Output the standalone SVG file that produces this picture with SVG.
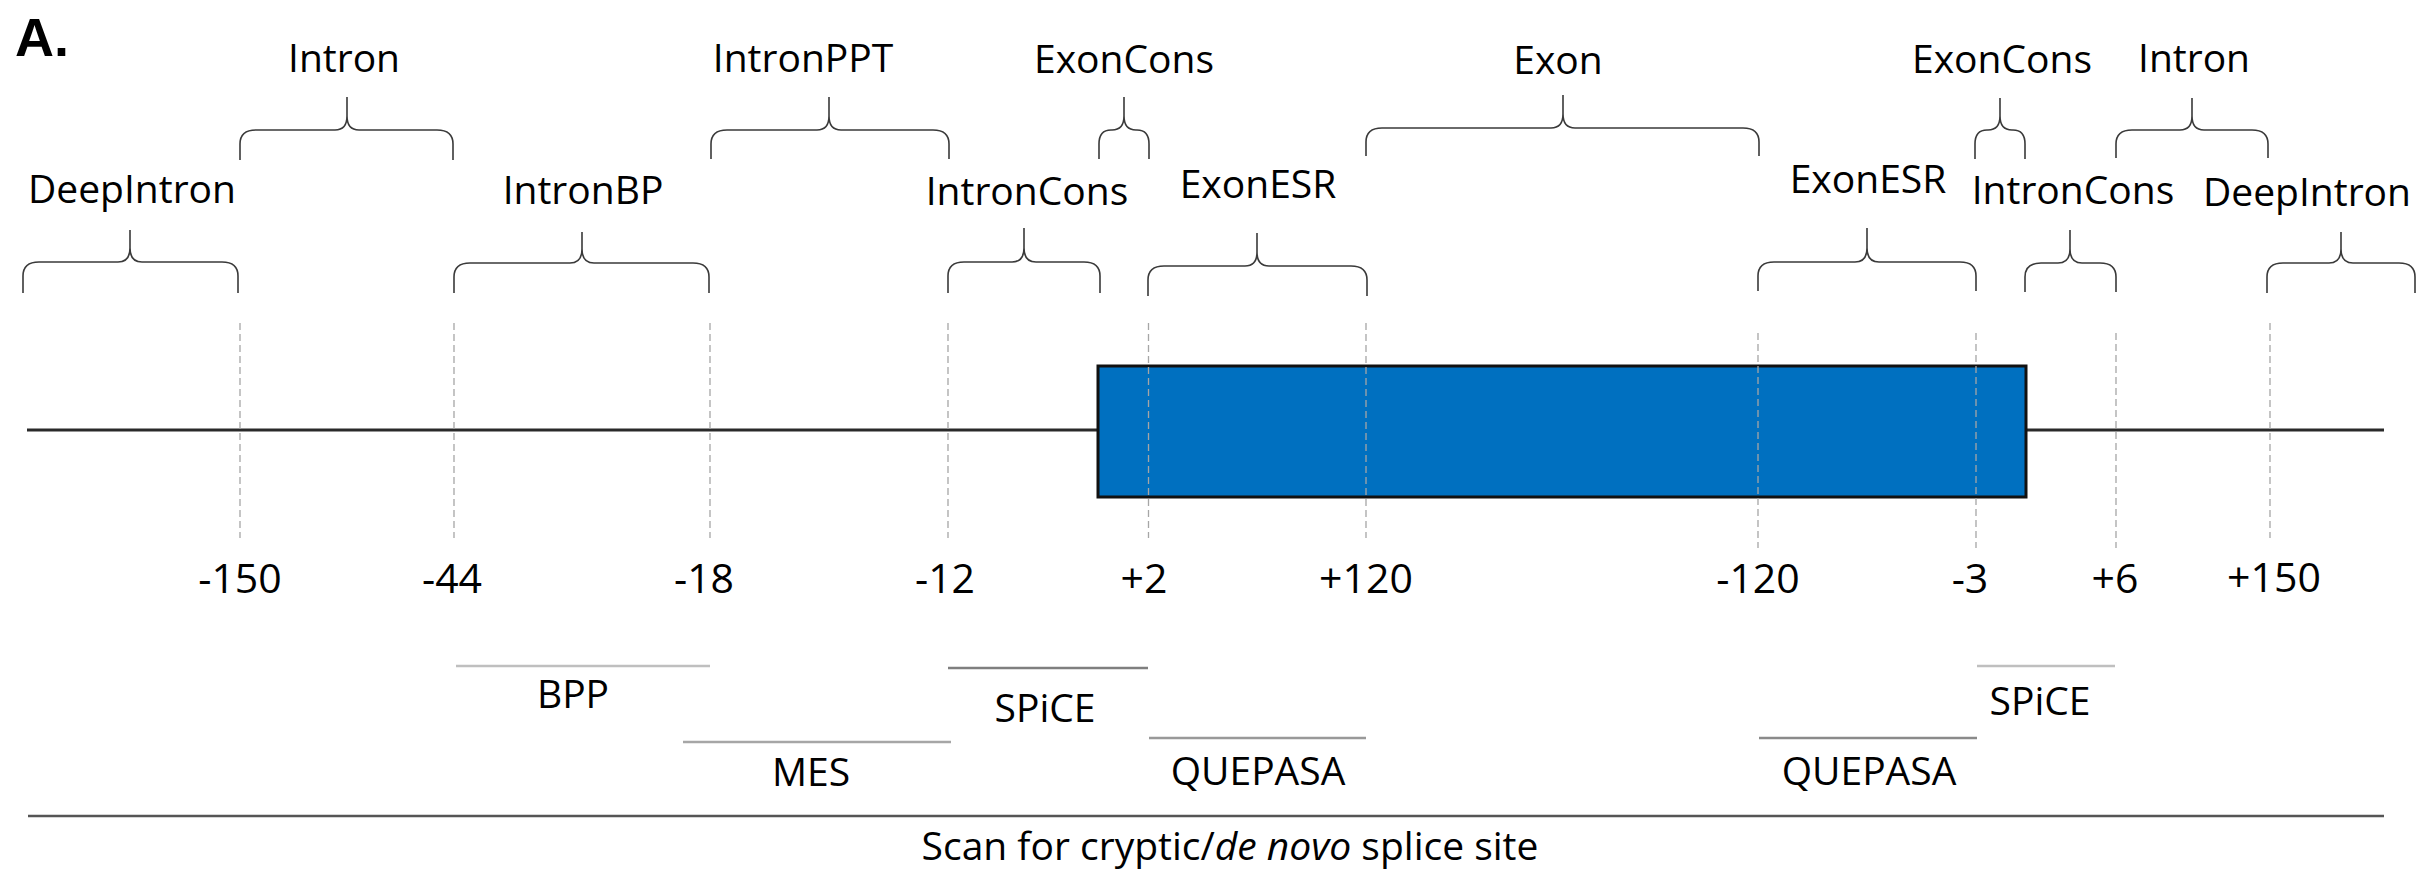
<svg xmlns="http://www.w3.org/2000/svg" width="2422" height="878" viewBox="0 0 2422 878">
<style>
text{font-family:"Open Sans","Liberation Sans",sans-serif;fill:#000;text-anchor:middle}
.lbl{font-size:39px}
.num{font-size:41px}
.br{fill:none;stroke:#3a3a3a;stroke-width:1.6}
.dash{stroke:#a6a6a6;stroke-width:1.3;stroke-dasharray:7 4}
.tool{stroke-width:2.5}
</style>
<rect width="2422" height="878" fill="#fff"/>
<text x="15" y="56" style="font-family:'Liberation Sans',Arial,sans-serif;font-weight:bold;font-size:54px;text-anchor:start">A.</text>

<g id="gene">
<line x1="27" y1="430" x2="1098" y2="430" stroke="#2a2a2a" stroke-width="3"/>
<line x1="2026" y1="430" x2="2384" y2="430" stroke="#2a2a2a" stroke-width="3"/>
<rect id="exon-box" x="1098" y="366" width="928" height="131" fill="#0070C0" stroke="#111" stroke-width="3"/>
</g>

<g id="connectors">
<line class="dash" x1="240" y1="323" x2="240" y2="538"/>
<line class="dash" x1="454" y1="323" x2="454" y2="538"/>
<line class="dash" x1="710" y1="323" x2="710" y2="538"/>
<line class="dash" x1="948" y1="323" x2="948" y2="538"/>
<line class="dash" x1="1148.5" y1="323" x2="1148.5" y2="538"/>
<line class="dash" x1="1366" y1="323" x2="1366" y2="538"/>
<line class="dash" x1="1758" y1="333" x2="1758" y2="548"/>
<line class="dash" x1="1976" y1="333" x2="1976" y2="548"/>
<line class="dash" x1="2116" y1="333" x2="2116" y2="548"/>
<line class="dash" x1="2270" y1="323" x2="2270" y2="538"/>
</g>

<g id="positions" class="num">
<text x="240" y="593">-150</text>
<text x="452" y="593">-44</text>
<text x="704" y="593">-18</text>
<text x="945" y="593">-12</text>
<text x="1144" y="593">+2</text>
<text x="1366" y="593">+120</text>
<text x="1758" y="593">-120</text>
<text x="1970" y="593">-3</text>
<text x="2115" y="593">+6</text>
<text x="2274" y="592">+150</text>
</g>

<g id="intron-left">
<path class="br" d="M240 160 L240 144 Q240 130 256 130 L335 130 Q347 130 347 116 L347 97 M347 116 Q347 130 359 130 L437 130 Q453 130 453 144 L453 160"/>
<text class="lbl" x="344" y="72">Intron</text>
</g>
<g id="intronppt">
<path class="br" d="M711 159 L711 144 Q711 130 727 130 L817 130 Q829 130 829 116 L829 97 M829 116 Q829 130 841 130 L933 130 Q949 130 949 144 L949 159"/>
<text class="lbl" x="803" y="72">IntronPPT</text>
</g>
<g id="exoncons-left">
<path class="br" d="M1099 159 L1099 144 Q1099 130 1111 130 L1112 130 Q1124 130 1124 116 L1124 97 M1124 116 Q1124 130 1136 130 L1137 130 Q1149 130 1149 144 L1149 159"/>
<text class="lbl" x="1124" y="73">ExonCons</text>
</g>
<g id="exon">
<path class="br" d="M1366 156 L1366 142 Q1366 128 1382 128 L1551 128 Q1563 128 1563 114 L1563 95 M1563 114 Q1563 128 1575 128 L1743 128 Q1759 128 1759 142 L1759 156"/>
<text class="lbl" x="1558" y="74">Exon</text>
</g>
<g id="exoncons-right">
<path class="br" d="M1975 159 L1975 144 Q1975 130 1987 130 L1988 130 Q2000 130 2000 116 L2000 98 M2000 116 Q2000 130 2012 130 L2013 130 Q2025 130 2025 144 L2025 159"/>
<text class="lbl" x="2002" y="73">ExonCons</text>
</g>
<g id="intron-right">
<path class="br" d="M2116 158 L2116 144 Q2116 130 2132 130 L2180 130 Q2192 130 2192 116 L2192 98 M2192 116 Q2192 130 2204 130 L2252 130 Q2268 130 2268 144 L2268 158"/>
<text class="lbl" x="2194" y="72">Intron</text>
</g>

<g id="deepintron-left">
<path class="br" d="M23 293 L23 276 Q23 262 39 262 L118 262 Q130 262 130 248 L130 230 M130 248 Q130 262 142 262 L222 262 Q238 262 238 276 L238 293"/>
<text class="lbl" x="132" y="203">DeepIntron</text>
</g>
<g id="intronbp">
<path class="br" d="M454 293 L454 277 Q454 263 470 263 L570 263 Q582 263 582 249 L582 232 M582 249 Q582 263 594 263 L693 263 Q709 263 709 277 L709 293"/>
<text class="lbl" x="583" y="204">IntronBP</text>
</g>
<g id="introncons-left">
<path class="br" d="M948 293 L948 276 Q948 262 964 262 L1012 262 Q1024 262 1024 248 L1024 228 M1024 248 Q1024 262 1036 262 L1084 262 Q1100 262 1100 276 L1100 293"/>
<text class="lbl" x="1027" y="205">IntronCons</text>
</g>
<g id="exonesr-left">
<path class="br" d="M1148 296 L1148 280 Q1148 266 1164 266 L1245 266 Q1257 266 1257 252 L1257 233 M1257 252 Q1257 266 1269 266 L1351 266 Q1367 266 1367 280 L1367 296"/>
<text class="lbl" x="1258" y="198">ExonESR</text>
</g>
<g id="exonesr-right">
<path class="br" d="M1758 291 L1758 276 Q1758 262 1774 262 L1855 262 Q1867 262 1867 248 L1867 228 M1867 248 Q1867 262 1879 262 L1960 262 Q1976 262 1976 276 L1976 291"/>
<text class="lbl" x="1868" y="193">ExonESR</text>
</g>
<g id="introncons-right">
<path class="br" d="M2025 292 L2025 277 Q2025 263 2041 263 L2058 263 Q2070 263 2070 249 L2070 230 M2070 249 Q2070 263 2082 263 L2100 263 Q2116 263 2116 277 L2116 292"/>
<text class="lbl" x="2073" y="204">IntronCons</text>
</g>
<g id="deepintron-right">
<path class="br" d="M2267 293 L2267 277 Q2267 263 2283 263 L2329 263 Q2341 263 2341 249 L2341 232 M2341 249 Q2341 263 2353 263 L2399 263 Q2415 263 2415 277 L2415 293"/>
<text class="lbl" x="2307" y="206">DeepIntron</text>
</g>

<g id="bpp">
<line class="tool" x1="456" y1="666" x2="710" y2="666" stroke="#bfbfbf"/>
<text class="lbl" x="573" y="708">BPP</text>
</g>
<g id="spice-left">
<line class="tool" x1="948" y1="668" x2="1148" y2="668" stroke="#7f7f7f"/>
<text class="lbl" x="1045" y="722">SPiCE</text>
</g>
<g id="mes">
<line class="tool" x1="683" y1="742" x2="951" y2="742" stroke="#a6a6a6"/>
<text class="lbl" x="811" y="786">MES</text>
</g>
<g id="quepasa-left">
<line class="tool" x1="1149" y1="738" x2="1366" y2="738" stroke="#999"/>
<text class="lbl" x="1258" y="785">QUEPASA</text>
</g>
<g id="quepasa-right">
<line class="tool" x1="1759" y1="738" x2="1977" y2="738" stroke="#8a8a8a"/>
<text class="lbl" x="1869" y="785">QUEPASA</text>
</g>
<g id="spice-right">
<line class="tool" x1="1977" y1="666" x2="2115" y2="666" stroke="#bfbfbf"/>
<text class="lbl" x="2040" y="715">SPiCE</text>
</g>
<g id="scan">
<line x1="28" y1="816" x2="2384" y2="816" stroke="#555" stroke-width="2.5"/>
<text class="lbl" x="1230" y="860">Scan for cryptic/<tspan font-style="italic">de novo</tspan> splice site</text>
</g>
</svg>
